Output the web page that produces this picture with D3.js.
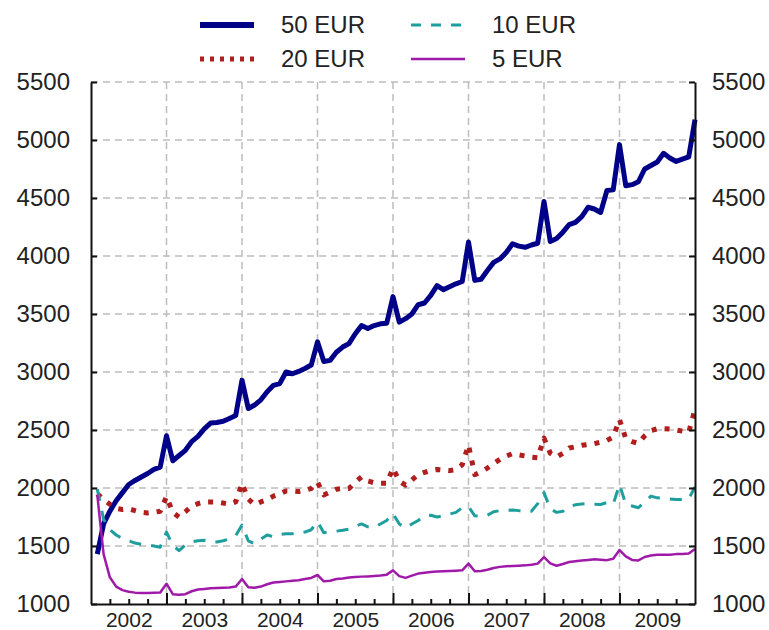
<!DOCTYPE html>
<html>
<head>
<meta charset="utf-8">
<script src="https://cdn.jsdelivr.net/npm/d3@7"></script>
<style>
  body { margin: 0; background: #fff; }
  svg text { font-family: "Liberation Sans", Arial, sans-serif; fill: #222; }
</style>
</head>
<body>
<div id="chart"></div>
<script>
// Banknotes in circulation (monthly, Jan 2002 .. Dec 2009)
const years = [2002, 2003, 2004, 2005, 2006, 2007, 2008, 2009];
const yTicks = [1000, 1500, 2000, 2500, 3000, 3500, 4000, 4500, 5000, 5500];

const eur50 = [
  1430, 1690, 1800, 1890, 1960, 2030, 2065, 2095, 2125, 2160, 2180, 2450,
  2235, 2280, 2325, 2400, 2445, 2510, 2560, 2565, 2575, 2600, 2625, 2930,
  2685, 2715, 2760, 2830, 2885, 2900, 3000, 2985, 3005, 3030, 3060, 3260,
  3090, 3100, 3170, 3215, 3245, 3330, 3400, 3375, 3400, 3415, 3420, 3650,
  3430, 3460, 3500, 3580, 3595, 3660, 3745, 3710, 3735, 3760, 3780, 4120,
  3790, 3800, 3875, 3945, 3975, 4030, 4105, 4085, 4075, 4095, 4110, 4470,
  4125, 4150, 4205, 4270, 4290, 4340, 4420, 4405, 4375, 4565, 4570, 4960,
  4605, 4615, 4640, 4750, 4780, 4810, 4885, 4845, 4815, 4835, 4855, 5175
];
const eur20 = [
  1950, 1900, 1860, 1825, 1815, 1820, 1805, 1790, 1785, 1790, 1800, 1925,
  1790, 1750, 1795, 1845, 1865, 1880, 1880, 1880, 1870, 1860, 1880, 2040,
  1905, 1855, 1880, 1900, 1930, 1950, 1975, 1975, 1970, 1980, 1995, 2050,
  1940, 1965, 1990, 1995, 1995, 2050, 2095, 2060, 2045, 2040, 2040, 2170,
  2060, 2025, 2070, 2115, 2135, 2150, 2160, 2155, 2150, 2160, 2200, 2370,
  2115, 2140, 2172, 2210, 2247, 2275, 2296, 2285, 2276, 2265, 2260, 2430,
  2300, 2267, 2300, 2345, 2355, 2368, 2375, 2382, 2395, 2410, 2440, 2590,
  2425, 2400, 2385, 2450, 2495, 2510, 2512, 2508, 2500, 2490, 2480, 2680
];
const eur10 = [
  1990, 1730, 1640, 1595, 1565, 1545, 1525, 1515, 1510, 1500, 1490, 1620,
  1505, 1460, 1510, 1535, 1545, 1550, 1540, 1535, 1545, 1560, 1590, 1680,
  1545, 1520, 1560, 1595, 1580, 1600, 1605, 1605, 1615, 1620, 1640, 1710,
  1615, 1625, 1628, 1635, 1645, 1670, 1690, 1665, 1660, 1690, 1720, 1780,
  1690, 1655, 1690, 1720, 1760, 1765, 1750, 1760, 1775, 1790, 1830, 1840,
  1760, 1755, 1765, 1795, 1805, 1808, 1810, 1805, 1795, 1800, 1865, 1960,
  1820, 1790, 1800, 1840, 1855, 1862, 1865, 1860, 1858, 1875, 1860, 2030,
  1860, 1845, 1830, 1880, 1930, 1915, 1910, 1905, 1900, 1900, 1905, 2010
];
const eur5 = [
  1940, 1430, 1230, 1150, 1120, 1105, 1098, 1095, 1095, 1098, 1100, 1175,
  1085, 1080, 1085, 1110, 1125, 1130, 1135, 1138, 1140, 1143, 1150, 1215,
  1145, 1140, 1150, 1170, 1185, 1190, 1195, 1200, 1205, 1215, 1225, 1250,
  1195, 1200, 1215, 1220, 1228, 1233, 1236, 1238, 1241, 1245, 1253, 1290,
  1240, 1225, 1245, 1262, 1270, 1276, 1280, 1283, 1285, 1287, 1290, 1348,
  1282, 1285, 1295, 1310, 1320, 1325, 1328, 1330, 1333, 1338, 1348, 1405,
  1350, 1330, 1345, 1362, 1368, 1375, 1380, 1385, 1382, 1378, 1390, 1465,
  1410, 1380, 1376, 1405, 1418, 1425, 1425, 1425, 1430, 1432, 1435, 1475
];

const series = [
  { name: '50 EUR', values: eur50, color: '#000088', width: 5,   dash: null },
  { name: '20 EUR', values: eur20, color: '#b01e1e', width: 5,   dash: '5,8' },
  { name: '10 EUR', values: eur10, color: '#1f9e9e', width: 3,   dash: '12,10' },
  { name: '5 EUR',  values: eur5,  color: '#a01aaa', width: 2.5, dash: null },
];

const W = 769, H = 630;
const L = 91, R = 695, T = 82, B = 604;
const nMonths = eur50.length;

const svg = d3.select('#chart').append('svg')
  .attr('width', W).attr('height', H);

// month index -1 = end of Dec 2001 (left edge)
const x = d3.scaleLinear().domain([-1, nMonths - 1]).range([L, R]);
const y = d3.scaleLinear().domain([1000, 5500]).range([B, T]);

const yearEnds = years.slice(0, -1).map((yr, k) => k * 12 + 11);
const quarterEnds = d3.range(2, nMonths, 3).filter(i => i % 12 !== 11);
const yearMids = years.map((yr, k) => k * 12 + 5);

// grid
const grid = svg.append('g')
  .attr('stroke', '#bdbdbd').attr('stroke-width', 1.5).attr('stroke-dasharray', '7,5');
grid.selectAll('line.h').data(yTicks.slice(1)).join('line')
  .attr('x1', L).attr('x2', R).attr('y1', d => y(d)).attr('y2', d => y(d));
grid.selectAll('line.v').data(yearEnds).join('line')
  .attr('x1', d => x(d)).attr('x2', d => x(d)).attr('y1', T).attr('y2', B);

// series
const line = d3.line().x((d, i) => x(i)).y(d => y(d));
for (const s of series) {
  svg.append('path').datum(s.values)
    .attr('d', line)
    .attr('fill', 'none')
    .attr('stroke', s.color)
    .attr('stroke-width', s.width)
    .attr('stroke-linejoin', 'round')
    .attr('stroke-dasharray', s.dash);
}

// axes
function styleAxis(g) {
  g.select('.domain').attr('stroke', '#111').attr('stroke-width', 2);
  g.selectAll('.tick line').attr('stroke', '#111').attr('stroke-width', 2);
  g.selectAll('.tick text').attr('fill', '#222');
}
const fmt = d3.format('d');

svg.append('g').attr('transform', `translate(${L},0)`)
  .call(d3.axisLeft(y).tickValues(yTicks).tickFormat(fmt).tickSizeInner(-6).tickSizeOuter(0).tickPadding(21))
  .call(styleAxis)
  .selectAll('text').style('font-size', '24px');

svg.append('g').attr('transform', `translate(${R},0)`)
  .call(d3.axisRight(y).tickValues(yTicks).tickFormat(fmt).tickSizeInner(-6).tickSizeOuter(0).tickPadding(17))
  .call(styleAxis)
  .selectAll('text').style('font-size', '24px');

svg.append('g').attr('transform', `translate(0,${B})`)
  .call(d3.axisBottom(x).tickValues(quarterEnds).tickSizeInner(-5).tickSizeOuter(0).tickFormat(''))
  .call(styleAxis);
svg.append('g').attr('transform', `translate(0,${B})`)
  .call(d3.axisBottom(x).tickValues(yearEnds).tickSizeInner(-11).tickSizeOuter(0).tickFormat(''))
  .call(styleAxis)
  .select('.domain').remove();
svg.append('g').attr('transform', `translate(0,${B})`)
  .call(d3.axisBottom(x).tickValues(yearMids).tickSize(0).tickPadding(8)
    .tickFormat((d, k) => years[k]))
  .call(g => g.select('.domain').remove())
  .selectAll('text').style('font-size', '21px').attr('fill', '#222');

// legend (two columns, two rows)
const legendPos = [
  { s: series[0], x: 200, y: 25 },
  { s: series[2], x: 411, y: 25 },
  { s: series[1], x: 200, y: 59 },
  { s: series[3], x: 411, y: 59 },
];
const leg = svg.append('g');
for (const p of legendPos) {
  leg.append('line')
    .attr('x1', p.x).attr('x2', p.x + 54).attr('y1', p.y).attr('y2', p.y)
    .attr('stroke', p.s.color)
    .attr('stroke-width', p.s.name === '50 EUR' ? 6 : p.s.width)
    .attr('stroke-dasharray', p.s.name === '10 EUR' ? '10,10' : p.s.name === '20 EUR' ? '4,6' : null);
  leg.append('text')
    .attr('x', p.x + 81).attr('y', p.y).attr('dy', '0.35em')
    .style('font-size', '24px')
    .text(p.s.name);
}
</script>
</body>
</html>
